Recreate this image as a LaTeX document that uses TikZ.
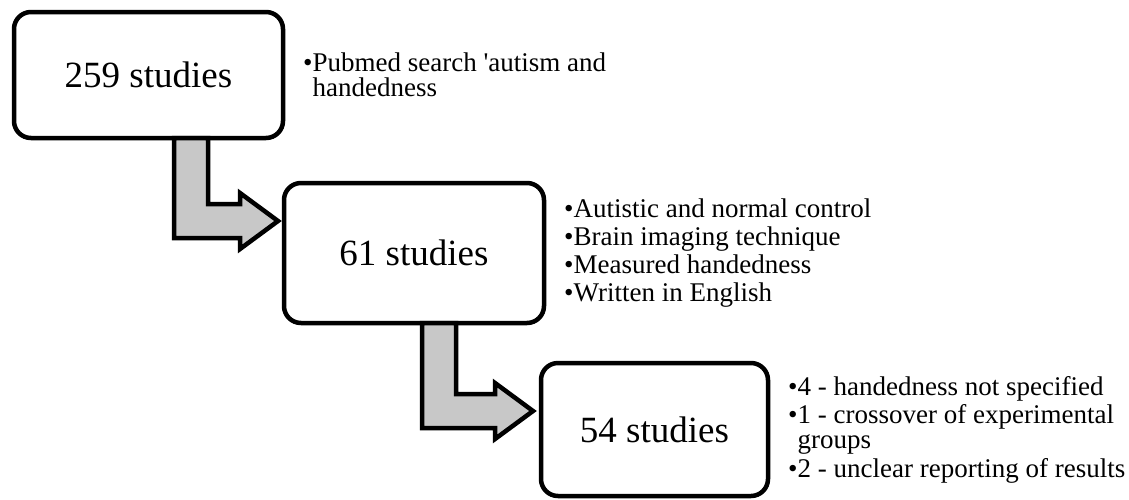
\documentclass[tikz,border=0pt]{standalone}
\usepackage{fontspec}
\setmainfont{Liberation Serif}
\usetikzlibrary{positioning,calc}
\definecolor{arrowgray}{RGB}{200,200,200}

\begin{document}
\begin{tikzpicture}[x=1pt,y=-1pt]
	\tikzstyle{box}=[draw,fill=white,line width=4.5pt,rounded corners=17pt,outer sep=0pt,inner sep=0pt,font=\fontsize{37}{40}\selectfont]
	\tikzstyle{info}=[align=left,inner sep=0pt,font=\fontsize{27}{24.5}\selectfont]
	\tikzstyle{fatarrow}=[draw,line width=4.5pt,fill=arrowgray,miter limit=10]
	\useasboundingbox (0,0) rectangle (1129,499);
	\node[box,minimum width=269pt,minimum height=126pt] (b1) at (148.5,75) {259 studies};
	\node[box,minimum width=260pt,minimum height=140pt] (b2) at (414,253) {61 studies};
	\node[box,minimum width=227pt,minimum height=133pt] (b3) at (654.5,429.5) {54 studies};
	\node[info,right=20pt of b1] (l1) {•Pubmed search \textquotesingle autism and\\\phantom{•}handedness};
	\node[info,right=20pt of b2] (l2) {•Autistic and normal control\\[3pt]
		•Brain imaging technique\\[3pt]
		•Measured handedness\\[3pt]
		•Written in English};
	\node[info,right=20pt of b3] (l3) {•4 - handedness not specified\\[3pt]
		•1 - crossover of experimental\\\phantom{•}groups\\[3pt]
		•2 - unclear reporting of results};
	% block arrows
	\coordinate (s1) at ($(b1.south west)+(160,0)$);
	\coordinate (t1) at ($(b2.west)+(-6,-32)$);
	\draw[fatarrow] (s1) -- ($(s1 |- t1)+(0,17)$) -- ($(t1)+(-38,17)$) -- ($(t1)+(-38,28)$) -- (t1)
		-- ($(t1)+(-38,-28)$) -- ($(t1)+(-38,-17)$) -- ($(s1 |- t1)+(34,-17)$) -- ($(s1)+(34,0)$) -- cycle;
	\coordinate (s2) at ($(b2.south west)+(138,0)$);
	\coordinate (t2) at ($(b3.west)+(-8,-18.5)$);
	\draw[fatarrow] (s2) -- ($(s2 |- t2)+(0,17)$) -- ($(t2)+(-38,17)$) -- ($(t2)+(-38,28)$) -- (t2)
		-- ($(t2)+(-38,-28)$) -- ($(t2)+(-38,-17)$) -- ($(s2 |- t2)+(34,-17)$) -- ($(s2)+(34,0)$) -- cycle;
\end{tikzpicture}
\end{document}
